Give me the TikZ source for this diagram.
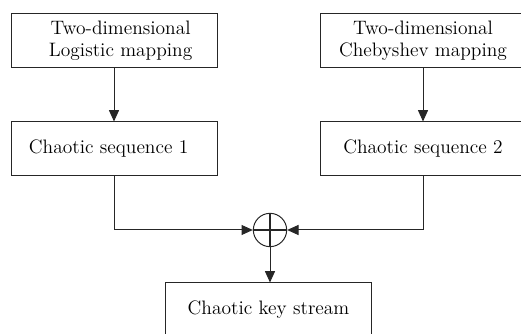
\documentclass[tikz,border=0pt]{standalone}
\usetikzlibrary{positioning,arrows.meta,calc}

\begin{document}
\begin{tikzpicture}[x=0.75pt,y=-0.75pt,
    block/.style={draw,line width=0.75pt,minimum width=154.5pt,minimum height=40.5pt,
      inner sep=0pt,align=center,font=\fontsize{14.6}{16.5}\selectfont},
    xorop/.style={circle,draw,line width=0.75pt,minimum size=25pt,inner sep=0pt}]
          \clip (0,0) rectangle (521,334);
          \useasboundingbox (0,0) rectangle (521,334);
          \begin{scope}[>={Triangle[length=8.5pt,width=7.5pt]},line width=0.75pt,draw=black!85]
            \node (logmap) at (114,41) [block]{\hspace{10pt}Two-dimensional\\\hspace{10pt}Logistic mapping};
            \node (seqa) at (114,149) [block]{Chaotic sequence 1\hspace{8pt}};
            \node (chebmap) at (423,41) [block]{Two-dimensional\\Chebyshev mapping};
            \node (seqb) at (423,149) [block]{Chaotic sequence 2};
            \node (xor) at (270,230) [xorop]{};
            \node (keys) at (268.5,310) [block]{Chaotic key stream};

            \draw[line width=1pt] (xor.north) -- (xor.south);
            \draw[line width=1pt] (xor.west) -- (xor.east);

            \draw[->] (logmap) -- (seqa);
            \draw[->] (chebmap) -- (seqb);
            \draw[->] (seqa.south) |- (xor.west);
            \draw[->] (seqb.south) |- (xor.east);
            \draw[->] (xor.south) -- (xor.south |- keys.north);

          \end{scope}
          \end{tikzpicture}
\end{document}
